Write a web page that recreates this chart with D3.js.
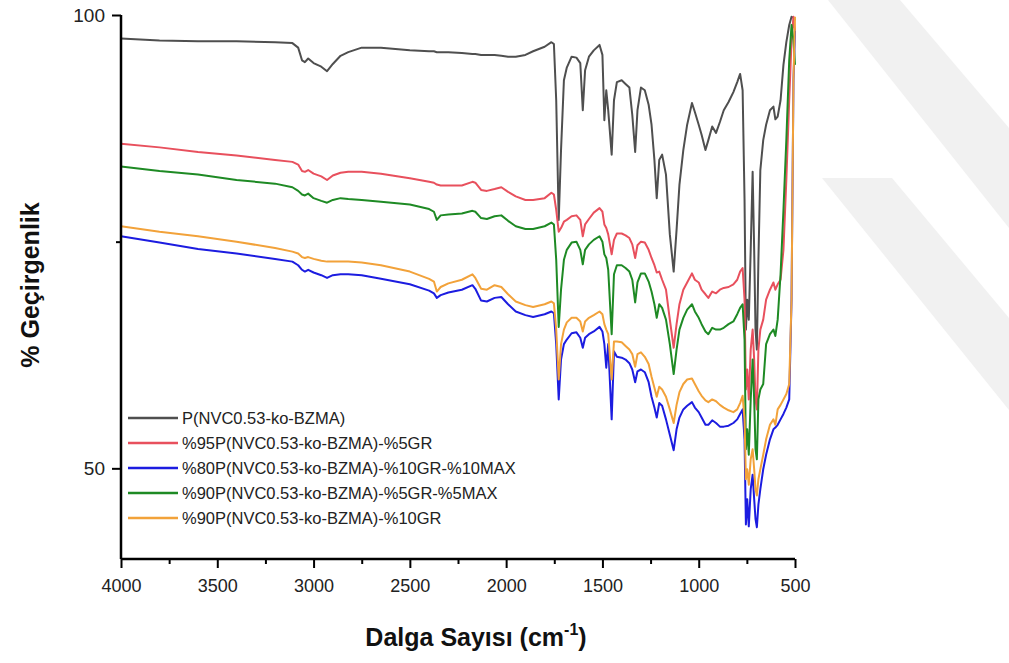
<!DOCTYPE html>
<html><head><meta charset="utf-8">
<script src="https://cdn.jsdelivr.net/npm/d3@7"></script>
<style>html,body{margin:0;padding:0;background:#fff;}svg{display:block;font-family:"Liberation Sans",Arial,sans-serif;}</style>
</head><body><svg id="c" width="1009" height="663"></svg>
<script>
const wavenumbers = [4000,3800,3600,3400,3200,3110,3080,3060,3045,3028,3000,2960,2930,2900,2860,2820,2750,2650,2500,2400,2375,2360,2340,2300,2230,2175,2160,2130,2100,2060,2025,1990,1950,1900,1860,1800,1765,1752,1740,1727,1715,1700,1685,1660,1635,1615,1602,1590,1570,1545,1515,1500,1490,1480,1470,1452,1440,1425,1400,1380,1360,1345,1330,1318,1300,1280,1260,1245,1230,1218,1205,1190,1170,1150,1130,1115,1100,1080,1060,1035,1020,1000,985,965,950,930,910,890,870,845,820,800,785,772,762,755,748,740,730,720,712,705,698,690,680,665,650,630,612,602,590,575,560,545,530,518,508,500];

const pNVC = [97.4,97.2,97.1,97.1,97.0,96.9,96.4,95.0,94.8,95.2,94.7,94.3,93.8,94.6,95.5,95.9,96.4,96.4,96.1,96.0,96.0,95.9,95.9,95.9,95.8,95.7,95.7,95.6,95.6,95.6,95.5,95.4,95.4,95.6,96.0,96.5,97.0,96.8,90.6,77.4,85.1,92.8,94.2,95.4,95.3,94.7,89.5,93.9,95.4,96.1,96.7,95.6,88.4,91.7,89.5,84.6,90.6,92.6,92.8,92.4,92.0,89.0,84.9,89.5,92.0,91.7,90.1,87.9,84.0,79.8,84.0,84.6,82.4,75.8,71.7,76.3,81.3,85.1,87.9,90.3,89.3,87.9,86.8,85.1,86.2,87.7,87.0,88.2,89.5,90.4,91.5,92.6,93.5,91.7,79.6,65.3,68.6,66.4,74.1,82.7,74.1,65.3,63.1,73.0,82.9,86.2,87.9,89.5,89.9,88.5,88.8,90.6,94.5,97.0,98.9,99.8,99.7,99.4];

const gr5 = [85.8,85.4,84.9,84.5,84.0,83.8,83.5,82.8,82.7,82.9,82.5,82.2,81.8,82.3,82.6,82.7,82.7,82.5,82.0,81.6,81.5,81.3,81.2,81.2,81.2,81.6,81.5,80.7,80.6,80.8,81.0,80.5,80.0,79.6,79.6,79.8,80.4,80.2,78.5,76.1,76.5,77.2,77.4,77.8,77.9,77.4,75.6,76.9,77.5,78.2,78.7,78.3,76.9,76.5,75.8,73.6,75.2,75.9,75.9,75.7,75.4,74.7,73.2,74.6,75.0,74.9,74.1,73.2,72.4,71.6,71.7,70.8,69.7,66.4,63.3,65.9,68.1,69.7,70.5,71.5,70.8,70.5,69.7,69.2,68.8,69.5,69.3,69.7,69.9,70.0,70.3,70.8,71.7,72.1,68.6,58.7,60.9,57.6,63.1,65.3,62.0,57.6,56.5,63.1,65.3,66.4,68.6,69.7,70.5,69.7,70.3,70.8,74.1,81.8,90.6,97.2,99.8,98.3];

const gr10max10 = [75.6,74.9,74.2,73.7,73.1,72.8,72.4,71.9,71.7,71.9,71.6,71.3,71.0,71.3,71.4,71.4,71.3,70.9,70.3,69.6,69.3,68.8,69.1,69.4,69.7,70.2,69.8,68.5,68.4,68.8,68.9,68.1,67.3,66.9,66.7,67.0,67.3,67.1,63.7,57.6,62.0,63.7,64.2,64.9,65.0,64.4,63.3,64.4,64.8,65.1,65.6,65.1,63.7,61.1,63.7,55.4,62.9,62.3,62.2,62.0,61.6,60.9,59.5,60.7,60.9,60.6,59.5,57.9,56.7,55.6,57.2,56.9,55.4,53.7,52.0,54.3,55.6,56.5,56.9,57.3,56.7,56.2,55.6,54.8,54.8,55.3,55.0,54.6,54.6,54.7,55.0,55.4,56.0,56.5,53.2,43.8,46.6,43.6,47.7,49.3,46.6,44.4,43.5,46.0,47.7,49.9,51.5,53.2,54.3,54.5,54.8,55.4,56.0,56.7,57.6,68.6,92.8,98.3];

const gr5max5 = [83.3,82.8,82.4,81.8,81.4,81.0,80.6,80.2,80.1,80.3,79.8,79.5,79.3,79.6,79.8,79.7,79.6,79.4,79.1,78.6,78.3,77.4,77.9,78.0,78.1,78.4,78.3,77.6,77.5,77.8,77.9,77.3,76.7,76.4,76.4,76.7,77.1,76.9,73.0,65.6,69.7,73.0,74.1,74.9,75.0,74.1,72.5,74.1,74.7,75.2,75.6,75.0,73.6,73.2,71.9,64.8,71.4,72.4,72.4,72.1,71.7,70.8,68.3,70.5,71.5,71.5,70.6,69.5,68.1,66.6,68.1,67.7,66.4,63.7,60.4,63.1,65.3,66.6,67.5,68.1,67.3,66.6,65.9,65.1,64.8,65.5,65.3,65.3,65.5,65.9,66.2,67.0,67.7,68.1,64.2,52.1,54.3,51.5,57.6,62.0,57.6,52.1,51.0,57.6,58.7,59.3,63.7,64.8,65.3,64.6,66.4,71.4,78.5,86.2,95.0,98.9,97.2,94.5];

const gr10 = [76.7,76.1,75.6,75.0,74.3,73.9,73.7,73.3,73.2,73.3,73.1,72.9,72.8,72.8,72.8,72.8,72.7,72.4,71.7,70.9,70.6,69.5,70.0,70.4,70.8,71.4,71.0,69.8,69.7,70.2,70.0,69.2,68.4,68.0,67.8,68.1,68.4,68.2,65.3,59.8,63.7,65.3,66.1,66.6,66.6,66.2,65.1,66.2,66.6,66.9,67.3,67.0,65.9,65.3,64.8,59.8,64.0,64.0,63.9,63.5,63.1,62.6,61.2,62.6,62.8,62.3,61.5,60.1,58.9,57.9,59.0,58.7,57.9,56.5,55.0,57.0,58.4,59.3,59.8,59.9,59.3,58.5,58.0,57.5,57.3,57.6,57.4,57.0,56.7,56.4,56.2,56.5,57.2,58.0,55.4,48.8,49.9,48.2,51.0,52.1,49.9,47.7,47.0,48.8,49.9,51.5,53.2,54.8,55.4,54.8,56.5,57.0,57.6,58.2,59.3,68.6,92.8,99.8];

const seriesNames = ["P(NVC0.53-ko-BZMA)","%95P(NVC0.53-ko-BZMA)-%5GR","%80P(NVC0.53-ko-BZMA)-%10GR-%10MAX","%90P(NVC0.53-ko-BZMA)-%5GR-%5MAX","%90P(NVC0.53-ko-BZMA)-%10GR"];
const seriesValues = [pNVC, gr5, gr10max10, gr5max5, gr10];
const seriesColors = ["#4f4f4f","#e8505d","#1c1ce0","#1e8a24","#f2a23a"];
const xMajorTicks = [4000,3500,3000,2500,2000,1500,1000,500];
const xMinorTicks = [3750,3250,2750,2250,1750,1250,750];
const yMajorTicks = [50,100];
const yMinorTicks = [75];
const xTitle = "Dalga Sayısı (cm";
const yTitle = "% Geçirgenlik";

const svg = d3.select("#c");
const L = 121, R = 795, T = 15, B = 559;
const x = d3.scaleLinear().domain([4000,500]).range([L,R]);
const y = d3.scaleLinear().domain([40,100]).range([B,T]);

// faint watermark
const wm = svg.append("g").attr("fill","#f1f1f1");
wm.append("path").attr("d","M828,0 L900,0 L1009,128 L1009,228 Z");
wm.append("path").attr("d","M822,178 L892,178 L1009,318 L1009,410 Z");

const line = d3.line().x(d=>x(d[0])).y(d=>y(d[1]));
const gLines = svg.append("g");
seriesValues.forEach((vals,i)=>{
  gLines.append("path").datum(wavenumbers.map((w,j)=>[w,vals[j]]))
    .attr("d",line).attr("fill","none").attr("stroke",seriesColors[i])
    .attr("stroke-width",2).attr("stroke-linejoin","round");
});

// axes
const xAxis = d3.axisBottom(x).tickValues(xMajorTicks).tickSize(9).tickPadding(11).tickFormat(d3.format("d"));
const gx = svg.append("g").attr("transform",`translate(0,${B})`).call(xAxis);
gx.select(".domain").attr("stroke","#000").attr("stroke-width",2.5).attr("d",`M${L},0H${R}`);
gx.selectAll(".tick line").attr("stroke","#000").attr("stroke-width",2);
gx.selectAll(".tick text").attr("font-size",18).attr("fill","#222").attr("font-family","Liberation Sans, Arial, sans-serif");
const gxm = svg.append("g").attr("transform",`translate(0,${B})`).call(d3.axisBottom(x).tickValues(xMinorTicks).tickSize(5).tickFormat(""));
gxm.select(".domain").remove();
gxm.selectAll(".tick line").attr("stroke","#000").attr("stroke-width",2);

const yAxis = d3.axisLeft(y).tickValues(yMajorTicks).tickSize(9).tickPadding(7);
const gy = svg.append("g").attr("transform",`translate(${L},0)`).call(yAxis);
gy.select(".domain").attr("stroke","#000").attr("stroke-width",2.5).attr("d",`M0,${T}V${B}`);
gy.selectAll(".tick line").attr("stroke","#000").attr("stroke-width",2);
gy.selectAll(".tick text").attr("font-size",19).attr("fill","#222").attr("font-family","Liberation Sans, Arial, sans-serif");
const gym = svg.append("g").attr("transform",`translate(${L},0)`).call(d3.axisLeft(y).tickValues(yMinorTicks).tickSize(5).tickFormat(""));
gym.select(".domain").remove();
gym.selectAll(".tick line").attr("stroke","#000").attr("stroke-width",2);

// titles
const xt = svg.append("text").attr("x",(L+R)/2+18).attr("y",646).attr("text-anchor","middle")
  .attr("font-size",25).attr("font-weight","bold").attr("fill","#111");
xt.append("tspan").text(xTitle);
xt.append("tspan").attr("dy",-11).attr("font-size",16).text("-1");
xt.append("tspan").attr("dy",11).text(")");

svg.append("text").attr("transform",`translate(39,285) rotate(-90)`).attr("text-anchor","middle")
  .attr("font-size",25).attr("font-weight","bold").attr("fill","#111").text(yTitle);

// legend
const lg = svg.append("g");
seriesNames.forEach((n,i)=>{
  const yy = 418 + i*25;
  lg.append("line").attr("x1",128).attr("x2",178).attr("y1",yy).attr("y2",yy)
    .attr("stroke",seriesColors[i]).attr("stroke-width",2.5);
  lg.append("text").attr("x",182).attr("y",yy).attr("dy","0.35em").attr("font-size",16.5)
    .attr("fill","#222").text(n);
});
</script></body></html>
